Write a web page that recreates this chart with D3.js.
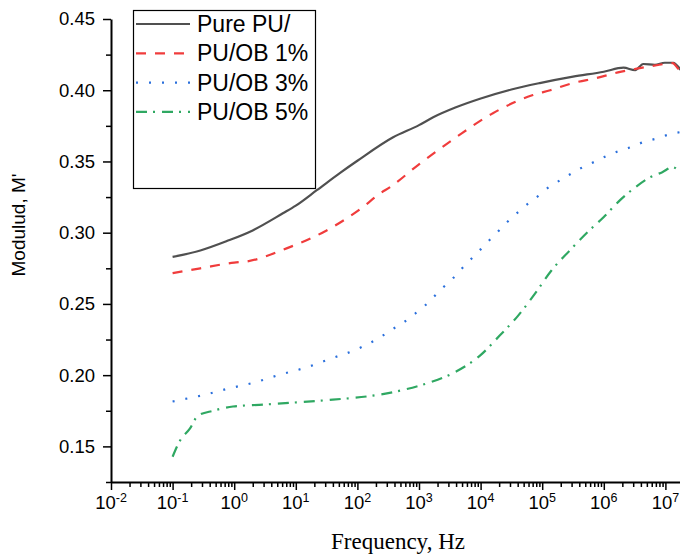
<!DOCTYPE html>
<html>
<head>
<meta charset="utf-8">
<script src="https://cdn.jsdelivr.net/npm/d3@7"></script>
<style>
  body { margin: 0; background: #fff; }
  svg { display: block; }
</style>
</head>
<body>
<div id="root"></div>
<script>
// log10(frequency) , modulus M'
const purePU = [
    [-1, 0.283], [-0.55, 0.2875], [-0.12, 0.2941], [0.3, 0.3016], [0.79, 0.3136], [1.0, 0.319],
    [1.34, 0.3298], [1.72, 0.342], [2.0, 0.3505], [2.58, 0.367], [3.0, 0.3755], [3.23, 0.381],
    [3.6, 0.388], [3.99, 0.394], [4.5, 0.4005], [4.96, 0.405], [5.5, 0.4095], [6.0, 0.413],
    [6.32, 0.4158], [6.51, 0.4141], [6.64, 0.4184], [6.83, 0.4179], [6.99, 0.4193], [7.13, 0.4193],
    [7.23, 0.4153], [7.3, 0.411],
];
const puOB1 = [
    [-1, 0.2716], [-0.55, 0.275], [0.0, 0.279], [0.2, 0.2798], [0.85, 0.289], [1.5, 0.3016],
    [2.09, 0.318], [2.37, 0.3276], [2.53, 0.332], [3.02, 0.3487], [3.61, 0.3672], [4.2, 0.3839],
    [4.85, 0.3966], [5.13, 0.4], [5.5, 0.405], [5.89, 0.4087], [6.23, 0.4125], [6.56, 0.4153],
    [6.88, 0.4177], [7.04, 0.4188], [7.12, 0.419], [7.2, 0.4155], [7.3, 0.411],
];
const puOB3 = [
    [-1, 0.1815], [-0.72, 0.184], [-0.5, 0.186], [-0.1, 0.1905], [0.34, 0.195], [0.74, 0.2003],
    [1.16, 0.2053], [1.57, 0.2116], [1.98, 0.218], [2.37, 0.2266], [2.56, 0.232], [2.73, 0.2364],
    [2.91, 0.2423], [3.08, 0.2482], [3.24, 0.255], [3.39, 0.2615], [3.56, 0.2684], [3.7, 0.275],
    [3.85, 0.2817], [4.0, 0.2883], [4.15, 0.2951], [4.3, 0.3016], [4.45, 0.3082], [4.61, 0.3145],
    [4.77, 0.3204], [4.95, 0.3262], [5.11, 0.332], [5.29, 0.3368], [5.48, 0.3417], [5.66, 0.346],
    [5.86, 0.35], [6.05, 0.3539], [6.25, 0.3574], [6.45, 0.3602], [6.65, 0.3637], [6.86, 0.3661],
    [7.07, 0.3691], [7.3, 0.371],
];
const puOB5 = [
    [-1, 0.1427], [-0.88, 0.154], [-0.72, 0.1624], [-0.59, 0.1715], [-0.34, 0.175], [-0.02, 0.178],
    [0.47, 0.1793], [0.95, 0.1807], [1.6, 0.1828], [2.25, 0.1856], [2.74, 0.1896], [3.18, 0.195],
    [3.61, 0.2027], [3.99, 0.2137], [4.31, 0.2278], [4.61, 0.2418], [4.88, 0.257], [5.15, 0.2735],
    [5.45, 0.2876], [5.75, 0.301], [6.0, 0.311], [6.26, 0.3227], [6.5, 0.3315], [6.75, 0.3389],
    [6.95, 0.3425], [7.12, 0.346], [7.24, 0.3424], [7.3, 0.340],
];

const seriesNames = ['Pure PU/', 'PU/OB 1%', 'PU/OB 3%', 'PU/OB 5%'];
const seriesData = [purePU, puOB1, puOB3, puOB5];
const colors = ['#505050', '#f03c3c', '#2a6fdc', '#2fa862'];
const dashes = [null, '10,9', '2,11', '11,6,2,7'];

const xDecades = [-2, -1, 0, 1, 2, 3, 4, 5, 6, 7];
const yTicks = [0.15, 0.20, 0.25, 0.30, 0.35, 0.40, 0.45];

const width = 680;
const height = 558;
const left = 111;
const bottom = 482;

const svg = d3.select('#root')
    .append('svg')
    .attr('width', width)
    .attr('height', height)
    .style('font-family', '"Liberation Sans", Arial, sans-serif');

const x = d3.scaleLog()
    .domain([1e-2, Math.pow(10, 7.3)])
    .range([left, left + 9.3 * 61.6]);

const y = d3.scaleLinear()
    .domain([0.125, 0.45])
    .range([bottom, 19]);

svg.append('defs').append('clipPath')
    .attr('id', 'plot')
    .append('rect')
    .attr('x', left)
    .attr('y', 0)
    .attr('width', width - left)
    .attr('height', bottom);

// curves
const line = d3.line()
    .curve(d3.curveMonotoneX)
    .x(d => x(Math.pow(10, d[0])))
    .y(d => y(d[1]));

svg.append('g')
    .attr('clip-path', 'url(#plot)')
    .selectAll('path')
    .data(seriesData)
    .join('path')
    .attr('d', line)
    .attr('fill', 'none')
    .attr('stroke', (d, k) => colors[k])
    .attr('stroke-width', 2.2)
    .attr('stroke-dasharray', (d, k) => dashes[k]);

// x axis, majors + minors
const minorX = [];
xDecades.forEach(e => {
    for (let m = 2; m <= 9; m++) {
        const v = m * Math.pow(10, e);
        if (v < x.domain()[1]) minorX.push(v);
    }
});

const xAxis = svg.append('g')
    .attr('transform', `translate(0,${bottom})`);

xAxis.append('g')
    .call(d3.axisBottom(x).tickValues(minorX).tickSize(5).tickFormat(''))
    .call(g => g.select('.domain').remove())
    .selectAll('line').attr('stroke-width', 1.5);

xAxis.append('g')
    .call(d3.axisBottom(x).tickValues(xDecades.map(e => Math.pow(10, e))).tickSize(8).tickSizeOuter(0).tickFormat(''))
    .call(g => g.select('.domain').attr('stroke-width', 2))
    .selectAll('line').attr('stroke-width', 1.5);

const xLabels = svg.append('g')
    .selectAll('text')
    .data(xDecades)
    .join('text')
    .attr('x', e => x(Math.pow(10, e)))
    .attr('y', 509)
    .attr('text-anchor', 'middle')
    .style('font-size', '18.5px')
    .text('10');
xLabels.append('tspan')
    .attr('dy', -7)
    .style('font-size', '12.5px')
    .text(e => (e < 0 ? '-' + Math.abs(e) : String(e)));

// y axis
const minorY = d3.range(0, 7).map(k => 0.125 + 0.05 * k);

svg.append('g')
    .attr('transform', `translate(${left},0)`)
    .call(d3.axisLeft(y).tickValues(minorY).tickSize(5).tickFormat(''))
    .call(g => g.select('.domain').remove())
    .selectAll('line').attr('stroke-width', 1.5);

svg.append('g')
    .attr('transform', `translate(${left},0)`)
    .call(d3.axisLeft(y).tickValues(yTicks).tickSize(8).tickSizeOuter(0).tickPadding(8).tickFormat(d3.format('.2f')))
    .call(g => g.select('.domain').attr('stroke-width', 2))
    .call(g => g.selectAll('line').attr('stroke-width', 1.5))
    .call(g => g.selectAll('text')
        .style('font-size', '18.5px')
        .style('font-family', '"Liberation Sans", Arial, sans-serif')
        .attr('fill', '#000'));

// axis titles
svg.append('text')
    .attr('x', 398)
    .attr('y', 549)
    .attr('text-anchor', 'middle')
    .style('font-family', '"Liberation Serif", "Times New Roman", serif')
    .style('font-size', '23px')
    .text('Frequency, Hz');

svg.append('text')
    .attr('transform', 'translate(25,225) rotate(-90)')
    .attr('text-anchor', 'middle')
    .style('font-size', '19px')
    .text("Modulud, M'");

// legend
const legend = svg.append('g');
legend.append('rect')
    .attr('x', 133.5)
    .attr('y', 10.5)
    .attr('width', 182)
    .attr('height', 178)
    .attr('fill', '#fff')
    .attr('stroke', '#000')
    .attr('stroke-width', 1.2);

const rows = legend.selectAll('g.row')
    .data(seriesNames)
    .join('g')
    .attr('class', 'row')
    .attr('transform', (d, k) => `translate(0,${24 + k * 29.3})`);

rows.append('line')
    .attr('x1', 136)
    .attr('x2', 190)
    .attr('stroke', (d, k) => colors[k])
    .attr('stroke-width', 2.2)
    .attr('stroke-dasharray', (d, k) => dashes[k]);

rows.append('text')
    .attr('x', 197)
    .attr('y', 8)
    .style('font-size', '23px')
    .text(d => d);
</script>
</body>
</html>
